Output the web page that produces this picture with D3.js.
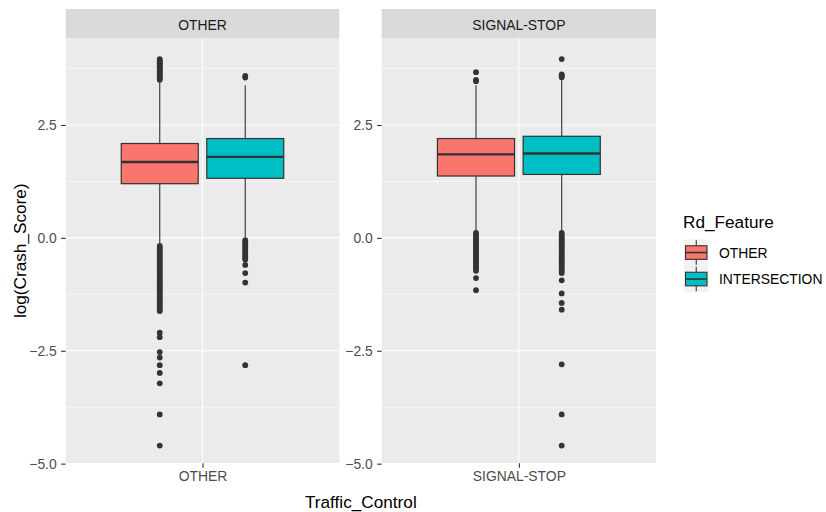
<!DOCTYPE html>
<html>
<head>
<meta charset="utf-8">
<script src="https://cdnjs.cloudflare.com/ajax/libs/d3/7.8.5/d3.min.js"></script>
<style>
  html, body { margin: 0; padding: 0; background: #ffffff; }
  svg { display: block; font-family: "Liberation Sans", Arial, Helvetica, sans-serif; }
</style>
</head>
<body>
<svg id="chart" width="826" height="512"></svg>
<script>
// Facets (Traffic_Control) and dodge groups (Rd_Feature)
const categories = ["OTHER", "SIGNAL-STOP"];
const features = ["OTHER", "INTERSECTION"];
const featureColors = ["#F8766D", "#00BFC4"];

// Box statistics, one row per facet, one entry per feature
const q1Values      = [[1.20, 1.32], [1.37, 1.405]];
const medianValues  = [[1.68, 1.795], [1.85, 1.87]];
const q3Values      = [[2.09, 2.20], [2.20, 2.25]];
const whiskerLow    = [[-0.13, 0.02], [0.15, 0.15]];
const whiskerHigh   = [[3.46, 3.38], [3.38, 3.50]];

// Outlying observations
const outliersOtherOther = [
  3.50, 3.53, 3.56, 3.59, 3.62, 3.65, 3.68, 3.71, 3.74, 3.77, 3.80, 3.83, 3.86, 3.89, 3.92, 3.96,
  -0.18, -0.22, -0.26, -0.30, -0.34, -0.38, -0.42, -0.46, -0.50, -0.54, -0.58, -0.62, -0.66,
  -0.70, -0.74, -0.78, -0.82, -0.86, -0.90, -0.94, -0.98, -1.02, -1.06, -1.10, -1.14, -1.18,
  -1.22, -1.26, -1.30, -1.34, -1.38, -1.42, -1.46, -1.50, -1.54, -1.58, -1.62,
  -2.10, -2.20, -2.53, -2.65, -2.82, -2.99, -3.22, -3.91, -4.60
];
const outliersOtherIntersection = [
  3.55, 3.59,
  -0.05, -0.09, -0.13, -0.17, -0.21, -0.25, -0.29, -0.33, -0.37, -0.41, -0.44, -0.48,
  -0.60, -0.78, -0.99, -2.82
];
const outliersSignalOther = [
  3.47, 3.50, 3.67,
  0.11, 0.07, 0.03, -0.01, -0.05, -0.09, -0.13, -0.17, -0.21, -0.25, -0.29, -0.33, -0.37,
  -0.41, -0.45, -0.49, -0.53, -0.57, -0.61, -0.65, -0.69, -0.73, -0.89, -1.16
];
const outliersSignalIntersection = [
  3.56, 3.59, 3.62, 3.96,
  0.11, 0.07, 0.03, -0.01, -0.05, -0.09, -0.13, -0.17, -0.21, -0.25, -0.29, -0.33, -0.37,
  -0.41, -0.45, -0.49, -0.53, -0.57, -0.61, -0.65, -0.69, -0.73, -0.78,
  -0.94, -1.23, -1.44, -1.59, -2.80, -3.91, -4.60
];
const outlierValues = [
  [outliersOtherOther, outliersOtherIntersection],
  [outliersSignalOther, outliersSignalIntersection]
];

// Axis ticks
const yMajorTicks = [-5.0, -2.5, 0.0, 2.5];
const yMinorTicks = [-3.75, -1.25, 1.25, 3.75];

const svg = d3.select("#chart");

const panelTop = 38.3, panelBottom = 463.2, stripTop = 9;
const panels = [
  { x0: 65.7, x1: 339.3 },
  { x0: 381.7, x1: 656.0 }
];

const y = d3.scaleLinear().domain([-4.99, 4.42]).range([panelBottom, panelTop]);

// dodge positions inside each category slot (width 0.75)
const dodge = d3.scaleBand().domain(features).range([-0.375, 0.375])
  .paddingInner(0.1).paddingOuter(0.05);

const tickFont = 13.9, titleFont = 17.2;

categories.forEach((cat, ci) => {
  const p = panels[ci];
  // discrete axis positions: category at 1, padded by 0.6 on each side
  const x = d3.scaleLinear().domain([0.4, 1.6]).range([p.x0, p.x1]);
  const g = svg.append("g");

  // panel background
  g.append("rect").attr("x", p.x0).attr("y", panelTop)
    .attr("width", p.x1 - p.x0).attr("height", panelBottom - panelTop)
    .attr("fill", "#EBEBEB");

  // grid
  g.selectAll(".minor").data(yMinorTicks).join("line")
    .attr("x1", p.x0).attr("x2", p.x1)
    .attr("y1", d => y(d)).attr("y2", d => y(d))
    .attr("stroke", "#ffffff").attr("stroke-width", 0.55);
  g.selectAll(".major").data(yMajorTicks).join("line")
    .attr("x1", p.x0).attr("x2", p.x1)
    .attr("y1", d => y(d)).attr("y2", d => y(d))
    .attr("stroke", "#ffffff").attr("stroke-width", 1.1);
  g.append("line").attr("x1", x(1)).attr("x2", x(1))
    .attr("y1", panelTop).attr("y2", panelBottom)
    .attr("stroke", "#ffffff").attr("stroke-width", 1.1);

  // strip
  g.append("rect").attr("x", p.x0).attr("y", stripTop)
    .attr("width", p.x1 - p.x0).attr("height", panelTop - stripTop)
    .attr("fill", "#D9D9D9");
  g.append("text").attr("x", (p.x0 + p.x1) / 2).attr("y", 30.4)
    .attr("text-anchor", "middle").attr("font-size", tickFont)
    .attr("fill", "#1A1A1A").text(cat);

  // y axis
  const yAxis = d3.axisLeft(y).tickValues(yMajorTicks)
    .tickFormat(d3.format(".1f")).tickSize(4.6).tickPadding(4.4);
  const ya = g.append("g").attr("transform", `translate(${p.x0},0)`).call(yAxis);
  ya.select(".domain").remove();
  ya.selectAll(".tick line").attr("stroke", "#333333").attr("stroke-width", 1.1);
  ya.selectAll(".tick text").attr("fill", "#4D4D4D").attr("font-size", tickFont)
    .attr("font-family", "Liberation Sans, Arial, sans-serif");

  // x axis
  const xAxis = d3.axisBottom(x).tickValues([1]).tickFormat(() => cat)
    .tickSize(4.6).tickPadding(3.2);
  const xa = g.append("g").attr("transform", `translate(0,${panelBottom})`).call(xAxis);
  xa.select(".domain").remove();
  xa.selectAll(".tick line").attr("stroke", "#333333").attr("stroke-width", 1.1);
  xa.selectAll(".tick text").attr("fill", "#4D4D4D").attr("font-size", tickFont)
    .attr("font-family", "Liberation Sans, Arial, sans-serif");

  // boxes
  features.forEach((f, fi) => {
    const cx0 = x(1 + dodge(f));
    const cx1 = x(1 + dodge(f) + dodge.bandwidth());
    const cx = (cx0 + cx1) / 2;
    const bg = g.append("g");
    // whiskers
    bg.append("line").attr("x1", cx).attr("x2", cx)
      .attr("y1", y(q3Values[ci][fi])).attr("y2", y(whiskerHigh[ci][fi]))
      .attr("stroke", "#333333").attr("stroke-width", 1.1);
    bg.append("line").attr("x1", cx).attr("x2", cx)
      .attr("y1", y(q1Values[ci][fi])).attr("y2", y(whiskerLow[ci][fi]))
      .attr("stroke", "#333333").attr("stroke-width", 1.1);
    // outliers
    bg.selectAll("circle").data(outlierValues[ci][fi]).join("circle")
      .attr("cx", cx).attr("cy", d => y(d)).attr("r", 2.9)
      .attr("fill", "#333333");
    // box
    bg.append("rect").attr("x", cx0).attr("y", y(q3Values[ci][fi]))
      .attr("width", cx1 - cx0)
      .attr("height", y(q1Values[ci][fi]) - y(q3Values[ci][fi]))
      .attr("fill", featureColors[fi]).attr("stroke", "#333333").attr("stroke-width", 1.2);
    // median
    bg.append("line").attr("x1", cx0).attr("x2", cx1)
      .attr("y1", y(medianValues[ci][fi])).attr("y2", y(medianValues[ci][fi]))
      .attr("stroke", "#333333").attr("stroke-width", 2.4);
  });
});

// axis titles
svg.append("text").attr("x", (panels[0].x0 + panels[1].x1) / 2).attr("y", 508)
  .attr("text-anchor", "middle").attr("font-size", titleFont).attr("fill", "#000")
  .text("Traffic_Control");
svg.append("text")
  .attr("transform", `translate(26,${(panelTop + panelBottom) / 2}) rotate(-90)`)
  .attr("text-anchor", "middle").attr("font-size", titleFont).attr("fill", "#000")
  .text("log(Crash_Score)");

// legend
const legend = svg.append("g");
legend.append("text").attr("x", 683).attr("y", 228).attr("font-size", titleFont)
  .attr("fill", "#000").text("Rd_Feature");
const keyX = 684, keyW = 24.5, keyH = 26.5, keyTop = 239.3;
features.forEach((f, i) => {
  const ky = keyTop + i * keyH;
  const kcx = keyX + keyW / 2, kcy = ky + keyH / 2;
  legend.append("rect").attr("x", keyX).attr("y", ky).attr("width", keyW).attr("height", keyH)
    .attr("fill", "#F2F2F2");
  legend.append("line").attr("x1", kcx).attr("x2", kcx).attr("y1", ky + 1).attr("y2", ky + keyH - 1)
    .attr("stroke", "#333333").attr("stroke-width", 1.1);
  legend.append("rect").attr("x", keyX + 1.5).attr("y", kcy - 6.8)
    .attr("width", keyW - 3).attr("height", 13.6)
    .attr("fill", featureColors[i]).attr("stroke", "#333333").attr("stroke-width", 1.1);
  legend.append("line").attr("x1", keyX + 1.5).attr("x2", keyX + keyW - 1.5)
    .attr("y1", kcy).attr("y2", kcy).attr("stroke", "#333333").attr("stroke-width", 1.6);
  legend.append("text").attr("x", 719).attr("y", kcy + 5).attr("font-size", tickFont)
    .attr("fill", "#000").text(f);
});
</script>
</body>
</html>
